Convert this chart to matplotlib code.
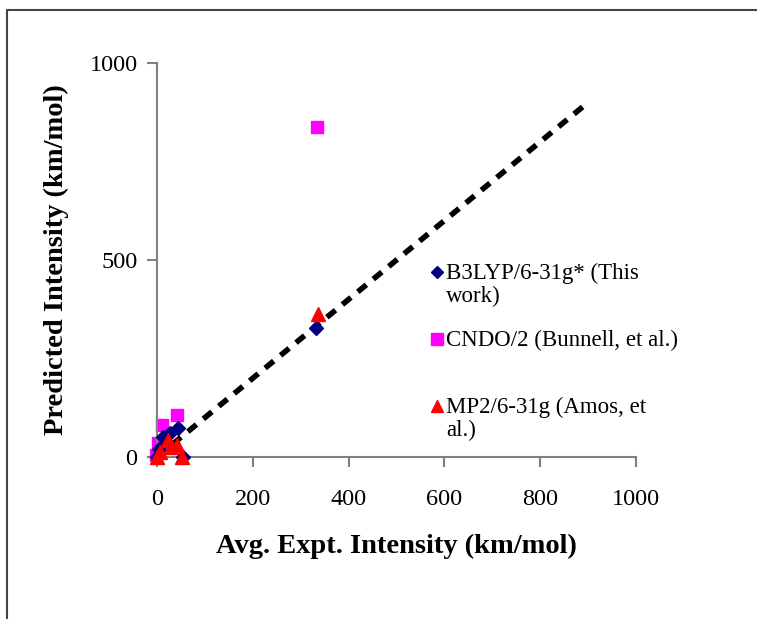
import matplotlib
matplotlib.use("Agg")
import matplotlib.pyplot as plt
from matplotlib.patches import Rectangle

plt.rcParams['font.family'] = ['Liberation Serif', 'DejaVu Serif']

# avg. experimental intensity vs predicted intensity (km/mol)
b3lyp_x = [0, 5, 13, 27, 44, 54, 331]
b3lyp_y = [0, 20, 51, 61, 74, 0, 327]
cndo_x = [-3, 2, 5, 10, 42, 333]
cndo_y = [5, 36, 22, 81, 107, 838]
mp2_x = [0, 6, 23, 30, 42, 52, 336]
mp2_y = [0, 13, 43, 25, 30, 0, 363]
fit_x = [0, 900]
fit_y = [0, 900]

labels = ["B3LYP/6-31g* (This\nwork)", "CNDO/2 (Bunnell, et al.)", "MP2/6-31g (Amos, et\nal.)"]

fig = plt.figure(figsize=(7.57, 6.19), dpi=100)
ax = fig.add_axes([157/757, 1 - 457/619, (636 - 157)/757, (457 - 63)/619])

# outer frame, only top and left edges visible
fig.patches.append(Rectangle((7/757, -0.2), 1.2, 1.2 - 10/619, transform=fig.transFigure,
                             fill=False, edgecolor='#444444', lw=1.5))

ax.plot(fit_x, fit_y, color='black', lw=4, linestyle=(0, (2.0, 1.6)), zorder=1)
ax.plot(cndo_x, cndo_y, 's', color='#FF00FF', ms=9, clip_on=False, zorder=2)
ax.plot(b3lyp_x, b3lyp_y, 'D', color='#000080', ms=7.5, clip_on=False, zorder=3)
ax.plot(mp2_x, mp2_y, '^', color='#FF0000', ms=10, clip_on=False, zorder=4)

ax.set_xlim(0, 1000)
ax.set_ylim(0, 1000)
ax.set_xticks([0, 200, 400, 600, 800, 1000])
ax.set_yticks([0, 500, 1000])
for s in ['top', 'right']:
    ax.spines[s].set_visible(False)
for s in ['left', 'bottom']:
    ax.spines[s].set_color('#808080')
    ax.spines[s].set_linewidth(1.5)
ax.tick_params(direction='out', length=7, width=1.5, color='#808080', labelsize=17.5)
ax.tick_params(axis='x', pad=16)
ax.tick_params(axis='y', pad=7)

ax.set_xlabel("Avg. Expt. Intensity (km/mol)", fontsize=20.5, fontweight='bold', labelpad=17)
ax.set_ylabel("Predicted Intensity (km/mol)", fontsize=20.5, fontweight='bold', labelpad=15)

# legend drawn by hand so that markers sit on the first text line
leg_y = [272, 339, 406]
leg_style = [('D', '#000080', 6.5), ('s', '#FF00FF', 8), ('^', '#FF0000', 8.5)]
for lab, yy, (m, c, ms) in zip(labels, leg_y, leg_style):
    fy = 1 - yy/619
    fig.lines.append(plt.Line2D([437/757], [fy], marker=m, color=c, ms=ms,
                                linestyle='none', transform=fig.transFigure))
    fig.text(446/757, fy + 9/619, lab, fontsize=16.5, va='top', ha='left',
             linespacing=1.12, transform=fig.transFigure)

fig.savefig("out.png", dpi=100)
